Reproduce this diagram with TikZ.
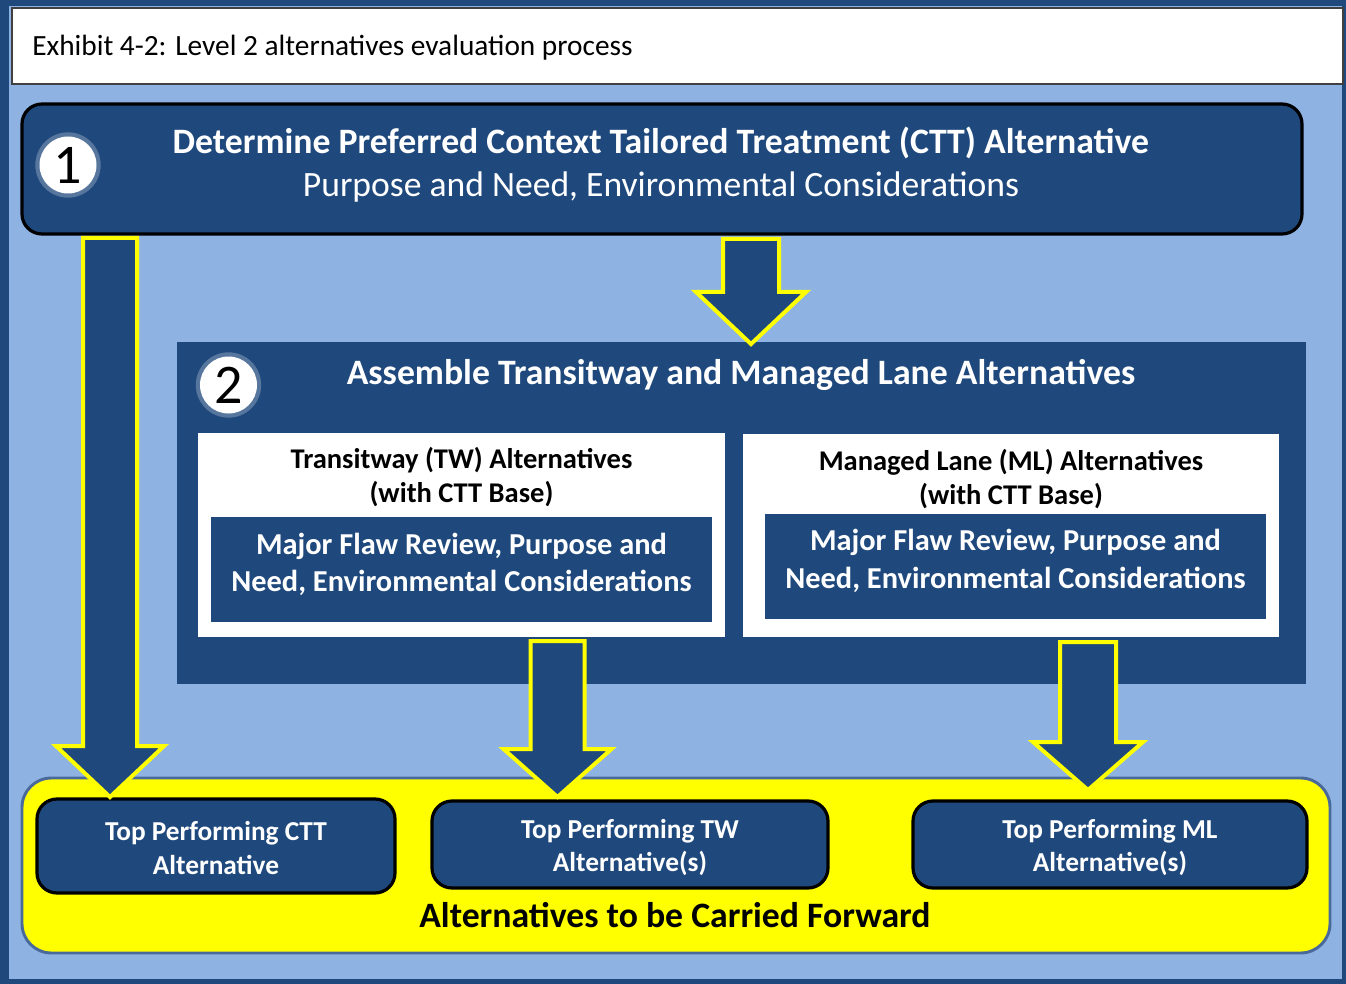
\documentclass[tikz,border=0pt]{standalone}
\usepackage{fontspec}
\setmainfont{Carlito}
\definecolor{dkblue}{HTML}{1F497D}
\definecolor{ltblue}{HTML}{8EB3E2}
\definecolor{ybord}{HTML}{48699A}
\definecolor{yel}{HTML}{FFFF00}
\tikzset{
  darkbox/.style={draw=black, line width=2.4pt, fill=dkblue, rounded corners=#1, inner sep=0pt},
  darkbox/.default=15pt,
  plainbox/.style={fill=dkblue, inner sep=0pt},
  whitebox/.style={fill=white, inner sep=0pt},
  numcirc/.style={circle, fill=white, inner sep=0pt, minimum size=42.75pt, font=\fontsize{42}{42}\selectfont},
  halo/.style={circle, fill=white, fill opacity=0.25, inner sep=0pt, minimum size=49pt},
  wtext/.style={text=white, align=center, inner sep=0pt},
  btext/.style={text=black, align=center, inner sep=0pt},
  blockarrow/.style={draw=yel, line width=3pt, fill=dkblue, line join=miter},
}
% block arrow: #1 cx, #2 top y, #3 head y, #4 tip y, #5 half shaft, #6 half head
\newcommand\blockarr[6]{%
  \draw[blockarrow] (#1-#5,#2) -- (#1+#5,#2) -- (#1+#5,#3) -- (#1+#6,#3) -- (#1,#4) -- (#1-#6,#3) -- (#1-#5,#3) -- cycle;}
\begin{document}
\begin{tikzpicture}[x=0.75pt,y=-0.75pt]
\useasboundingbox (0,0) rectangle (1346,984);
% frame
\fill[dkblue] (0,0) rectangle (1346,984);
\fill[ltblue] (9,6) rectangle (1342,979);
\node[draw=black!75, line width=0.8pt, fill=white, minimum width=1331*0.75pt, minimum height=76*0.75pt, inner sep=0pt] (title) at (677.5,46) {};
\node[anchor=west, btext, font=\fontsize{22}{24}\selectfont] (titletext) at (32,47.5) {Exhibit 4-2: Level 2 alternatives evaluation process};
% box 1
\node[darkbox, minimum width=1280*0.75pt, minimum height=130*0.75pt] (b1) at (662,169) {};
\node[halo] (h1) at (68,165) {};
\node[numcirc] (c1) at (68,165) {1};
\node[wtext, font=\bfseries\fontsize{26.8}{33}\selectfont] (t1a) at (661,143) {Determine Preferred Context Tailored Treatment (CTT) Alternative};
\node[wtext, font=\fontsize{26.7}{33}\selectfont] (t1b) at (661,187.5) {Purpose and Need, Environmental Considerations};
% box 2
\node[plainbox, minimum width=1129*0.75pt, minimum height=342*0.75pt] (b2) at (741.5,513) {};
\node[halo] (h2) at (228.5,385) {};
\node[numcirc] (c2) at (228.5,385) {2};
\node[wtext, font=\bfseries\fontsize{26.8}{33}\selectfont] (t2) at (741,375) {Assemble Transitway and Managed Lane Alternatives};
% TW
\node[whitebox, minimum width=527*0.75pt, minimum height=204*0.75pt] (tw) at (461.5,535) {};
\node[btext, font=\bfseries\fontsize{21.4}{25.5}\selectfont] (twt) at (461.5,477) {Transitway (TW) Alternatives\\(with CTT Base)};
\node[plainbox, minimum width=501*0.75pt, minimum height=105*0.75pt] (twi) at (461.5,569.5) {};
\node[wtext, font=\bfseries\fontsize{22.8}{28}\selectfont] (twit) at (461.5,564.5) {Major Flaw Review, Purpose and\\Need, Environmental Considerations};
% ML
\node[whitebox, minimum width=536*0.75pt, minimum height=203*0.75pt] (ml) at (1011,535.5) {};
\node[btext, font=\bfseries\fontsize{21.4}{25.5}\selectfont] (mlt) at (1011,479) {Managed Lane (ML) Alternatives\\(with CTT Base)};
\node[plainbox, minimum width=501*0.75pt, minimum height=105*0.75pt] (mli) at (1015.5,566.5) {};
\node[wtext, font=\bfseries\fontsize{22.8}{28}\selectfont] (mlit) at (1015.5,561) {Major Flaw Review, Purpose and\\Need, Environmental Considerations};
% yellow box
\node[draw=ybord, line width=2.2pt, fill=yel, rounded corners=22pt, minimum width=1308*0.75pt, minimum height=175*0.75pt, inner sep=0pt] (fwd) at (676,865.5) {};
\node[btext, font=\bfseries\fontsize{26.8}{30}\selectfont] (fwdt) at (675,915) {Alternatives to be Carried Forward};
\node[darkbox, minimum width=358*0.75pt, minimum height=94*0.75pt] (ctt) at (216,846) {};
\node[wtext, font=\bfseries\fontsize{20.5}{25}\selectfont] (cttt) at (216,848) {Top Performing CTT\\Alternative};
\node[darkbox, minimum width=396*0.75pt, minimum height=87*0.75pt] (twb) at (630,844.5) {};
\node[wtext, font=\bfseries\fontsize{20.5}{25}\selectfont] (twbt) at (630,847.5) {Top Performing TW\\Alternative(s)};
\node[darkbox, minimum width=394*0.75pt, minimum height=87*0.75pt] (mlb) at (1110,844.5) {};
\node[wtext, font=\bfseries\fontsize{20.5}{25}\selectfont] (mlbt) at (1110,847.5) {Top Performing ML\\Alternative(s)};
% arrows
\blockarr{110}{238}{746}{797}{27}{54}
\blockarr{751}{239}{292}{344}{28}{55}
\blockarr{557.5}{641}{749}{797}{27}{54}
\blockarr{1088}{642}{742}{790}{28}{55}
\end{tikzpicture}
\end{document}
